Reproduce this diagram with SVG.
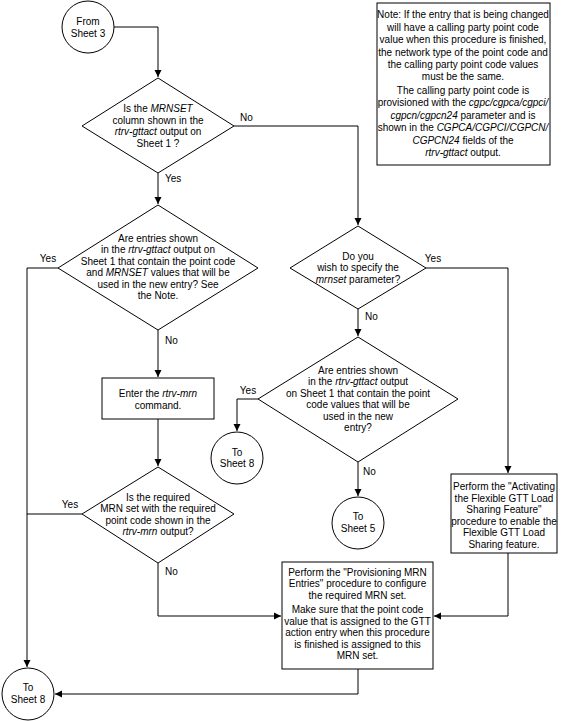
<svg xmlns="http://www.w3.org/2000/svg" width="565" height="721" viewBox="0 0 565 721">
<defs>
<marker id="ah" markerWidth="8" markerHeight="8" refX="7" refY="4" orient="auto" markerUnits="userSpaceOnUse">
<path d="M0,0.5 L7,4 L0,7.5 Z" fill="#000"/>
</marker>
</defs>
<style>
.s{fill:#fff;stroke:#000;stroke-width:1}
.t{font-family:"Liberation Sans",Arial,sans-serif;font-size:10px;fill:#000;text-anchor:middle}
.l{font-family:"Liberation Sans",Arial,sans-serif;font-size:10px;fill:#000}
.c{fill:none;stroke:#000;stroke-width:1}
.a{marker-end:url(#ah)}
</style>
<rect width="565" height="721" fill="#fff"/>
<g id="connectors">
<path class="c a" d="M114,27 H158 V77"/>
<path class="c a" d="M234,126 H358 V225"/>
<path class="c a" d="M158,173 V204"/>
<path class="c a" d="M58,268 H27 V667"/>
<path class="c a" d="M158,330 V377"/>
<path class="c a" d="M158,419 V466"/>
<path class="c" d="M82,514 H27"/>
<path class="c a" d="M158,563 V616 H281"/>
<path class="c a" d="M426,268 H508 V473"/>
<path class="c a" d="M508,553 V616 H434"/>
<path class="c a" d="M358,669 V694 H55"/>
<path class="c a" d="M358,309 V336"/>
<path class="c a" d="M258,399 H237 V431"/>
<path class="c a" d="M358,462 V496"/>
<text class="l" x="240" y="121">No</text>
<text class="l" x="165" y="182">Yes</text>
<text class="t" x="48" y="262">Yes</text>
<text class="l" x="165" y="344">No</text>
<text class="t" x="70" y="508">Yes</text>
<text class="l" x="165" y="575">No</text>
<text class="t" x="433" y="262">Yes</text>
<text class="l" x="365" y="320">No</text>
<text class="t" x="248" y="394">Yes</text>
<text class="l" x="363" y="475">No</text>
</g>
<g id="from-sheet3">
<circle class="s" cx="88" cy="27" r="26"/>
<text class="t" x="88" y="25">From</text>
<text class="t" x="88" y="37">Sheet 3</text>
</g>
<g id="note">
<rect class="s" x="377" y="3" width="173" height="162"/>
<text class="t" x="463" y="18">Note: If the entry that is being changed</text>
<text class="t" x="463" y="30.5">will have a calling party point code</text>
<text class="t" x="463" y="43">value when this procedure is finished,</text>
<text class="t" x="463" y="55.5">the network type of the point code and</text>
<text class="t" x="463" y="68">the calling party point code values</text>
<text class="t" x="463" y="80">must be the same.</text>
<text class="t" x="463" y="94">The calling party point code is</text>
<text class="t" x="463" y="106">provisioned with the <tspan font-style="italic">cgpc/cgpca/cgpci/</tspan></text>
<text class="t" x="463" y="118.5"><tspan font-style="italic">cgpcn/cgpcn24</tspan> parameter and is</text>
<text class="t" x="463" y="131">shown in the <tspan font-style="italic">CGPCA/CGPCI/CGPCN/</tspan></text>
<text class="t" x="463" y="143.5"><tspan font-style="italic">CGPCN24</tspan> fields of the</text>
<text class="t" x="463" y="156"><tspan font-style="italic">rtrv-gttact</tspan> output.</text>
</g>
<g id="d-mrnset-column">
<polygon class="s" points="158,78 234,126 158,173 82,126"/>
<text class="t" x="158" y="112">Is the <tspan font-style="italic">MRNSET</tspan></text>
<text class="t" x="158" y="123.5">column shown in the</text>
<text class="t" x="158" y="135"><tspan font-style="italic">rtrv-gttact</tspan> output on</text>
<text class="t" x="158" y="146.5">Sheet 1 ?</text>
</g>
<g id="d-entries-mrnset">
<polygon class="s" points="158,205 258,268 158,330 58,268"/>
<text class="t" x="158" y="241.5">Are entries shown</text>
<text class="t" x="158" y="253">in the <tspan font-style="italic">rtrv-gttact</tspan> output on</text>
<text class="t" x="158" y="264.5">Sheet 1 that contain the point code</text>
<text class="t" x="158" y="276">and <tspan font-style="italic">MRNSET</tspan> values that will be</text>
<text class="t" x="158" y="287.5">used in the new entry? See</text>
<text class="t" x="158" y="299">the Note.</text>
</g>
<g id="enter-rtrv-mrn">
<rect class="s" x="102" y="378" width="112" height="41"/>
<text class="t" x="158" y="396.5">Enter the <tspan font-style="italic">rtrv-mrn</tspan></text>
<text class="t" x="158" y="408.5">command.</text>
</g>
<g id="d-required-mrn">
<polygon class="s" points="158,467 234,514 158,563 82,514"/>
<text class="t" x="158" y="500.5">Is the required</text>
<text class="t" x="158" y="512">MRN set with the required</text>
<text class="t" x="158" y="523.5">point code shown in the</text>
<text class="t" x="158" y="535"><tspan font-style="italic">rtrv-mrn</tspan> output?</text>
</g>
<g id="d-specify-mrnset">
<polygon class="s" points="358,226 426,268 358,309 290,268"/>
<text class="t" x="358" y="259.5">Do you</text>
<text class="t" x="358" y="271">wish to specify the</text>
<text class="t" x="358" y="282.5"><tspan font-style="italic">mrnset</tspan> parameter?</text>
</g>
<g id="d-entries-pc">
<polygon class="s" points="358,337 458,399 358,462 258,399"/>
<text class="t" x="358" y="373.5">Are entries shown</text>
<text class="t" x="358" y="385">in the <tspan font-style="italic">rtrv-gttact</tspan> output</text>
<text class="t" x="358" y="396.5">on Sheet 1 that contain the point</text>
<text class="t" x="358" y="408">code values that will be</text>
<text class="t" x="358" y="419.5">used in the new</text>
<text class="t" x="358" y="431">entry?</text>
</g>
<g id="to-sheet8-mid">
<circle class="s" cx="237" cy="458" r="26"/>
<text class="t" x="237" y="455.5">To</text>
<text class="t" x="237" y="467">Sheet 8</text>
</g>
<g id="to-sheet5">
<circle class="s" cx="358" cy="523" r="26"/>
<text class="t" x="358" y="520">To</text>
<text class="t" x="358" y="531.5">Sheet 5</text>
</g>
<g id="activating">
<rect class="s" x="451" y="474" width="106" height="79"/>
<text class="t" x="504" y="490">Perform the "Activating</text>
<text class="t" x="504" y="501.5">the Flexible GTT Load</text>
<text class="t" x="504" y="513">Sharing Feature"</text>
<text class="t" x="504" y="524.5">procedure to enable the</text>
<text class="t" x="504" y="536">Flexible GTT Load</text>
<text class="t" x="504" y="547.5">Sharing feature.</text>
</g>
<g id="provisioning">
<rect class="s" x="282" y="562" width="151" height="107"/>
<text class="t" x="357.5" y="575.5">Perform the "Provisioning MRN</text>
<text class="t" x="357.5" y="587">Entries" procedure to configure</text>
<text class="t" x="357.5" y="598.5">the required MRN set.</text>
<text class="t" x="357.5" y="613">Make sure that the point code</text>
<text class="t" x="357.5" y="624.5">value that is assigned to the GTT</text>
<text class="t" x="357.5" y="636">action entry when this procedure</text>
<text class="t" x="357.5" y="647.5">is finished is assigned to this</text>
<text class="t" x="357.5" y="659">MRN set.</text>
</g>
<g id="to-sheet8-bottom">
<circle class="s" cx="28" cy="694" r="26"/>
<text class="t" x="28" y="691">To</text>
<text class="t" x="28" y="702.5">Sheet 8</text>
</g>
</svg>
